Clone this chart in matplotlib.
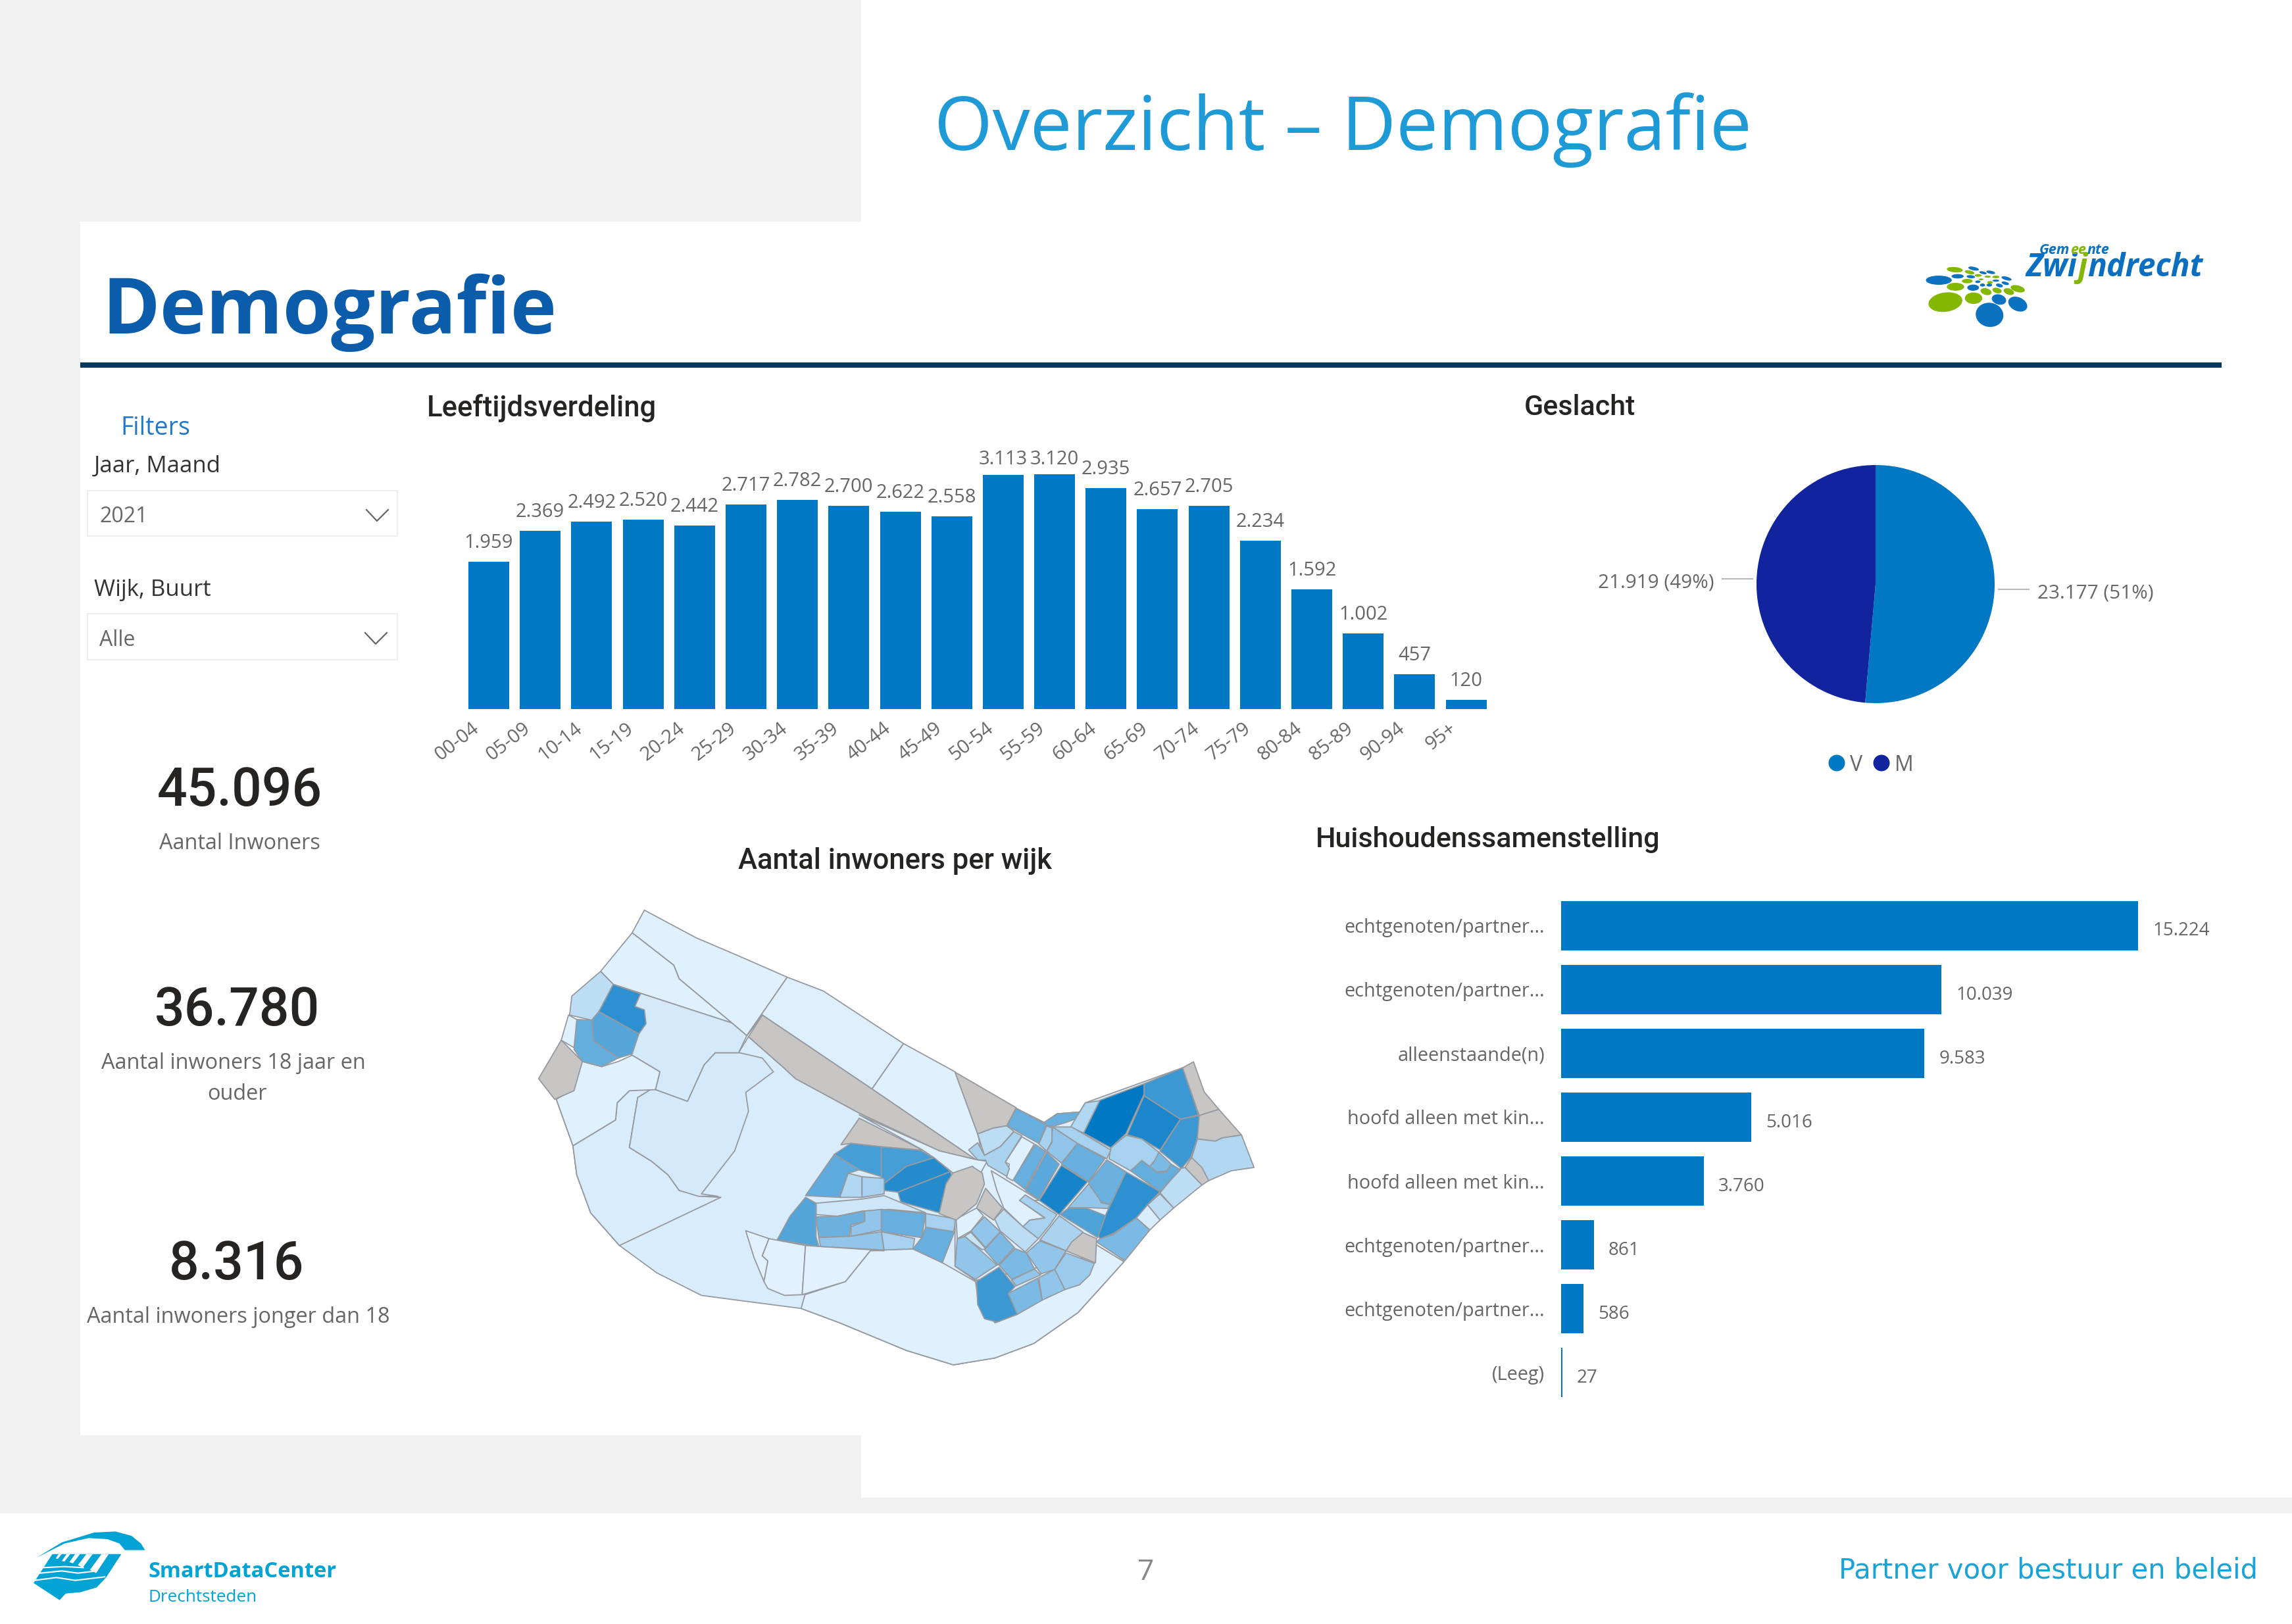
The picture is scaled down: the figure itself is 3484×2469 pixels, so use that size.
import numpy as np
from matplotlib import pyplot as pl, colors as mcolors
from matplotlib.collections import PolyCollection
from matplotlib.patches import Rectangle, Ellipse, Polygon
from matplotlib.transforms import ScaledTranslation

W, H = 3484, 2469
bodyFont = 'Open Sans'
dinFont = 'Roboto'
barCol = '#0078C4'
manCol = '#12239E'
labelCol = '#666666'
titleCol = '#252423'
greyBg = '#F1F1F1'
cyan = '#00A3D4'

# age chart
ageGroups = ['00-04', '05-09', '10-14', '15-19', '20-24', '25-29', '30-34', '35-39', '40-44', '45-49',
             '50-54', '55-59', '60-64', '65-69', '70-74', '75-79', '80-84', '85-89', '90-94', '95+']
ageCounts = [1959, 2369, 2492, 2520, 2442, 2717, 2782, 2700, 2622, 2558,
             3113, 3120, 2935, 2657, 2705, 2234, 1592, 1002, 457, 120]

# pie
genders = ['V', 'M']
genderCounts = [23177, 21919]
genderLabels = ['23.177 (51%)', '21.919 (49%)']

# households
hhLabels = ['echtgenoten/partner...', 'echtgenoten/partner...', 'alleenstaande(n)', 'hoofd alleen met kin...',
            'hoofd alleen met kin...', 'echtgenoten/partner...', 'echtgenoten/partner...', '(Leeg)']
hhCounts = [15224, 10039, 9583, 5016, 3760, 861, 586, 27]

# kpi cards
kpiValues = ['45.096', '36.780', '8.316']

def fmtNl(v):
  return f'{v:,}'.replace(',', '.')

# map: (share of the darkest wijk, outline). nan is a wijk without data (grey)
nan = float('nan')
westShapes = [
  (.05, [(268,710),(298,845),(305,930),(330,1040),(382,1135),(450,1215),(530,1280),(600,1295),(710,1318),(780,1360),(900,1440),(985,1482),(1060,1462),(1130,1420),(1210,1330),(1255,1250),(1293,1182),(1240,1130),(1100,960),(1040,890),(1025,885),(960,860),(815,750),(700,650),(680,620),(615,528),(597,575),(450,640)]),
  (.02, [(710,1318),(717,1278),(790,1240),(835,1150),(860,1148),(912,1145),(965,1185),(1025,1240),(1030,1300),(1060,1360),(1100,1335),(1240,1130),(1293,1182),(1255,1250),(1210,1330),(1130,1420),(1060,1462),(985,1482),(900,1440),(780,1360)]),
  (.05, [(298,845),(305,930),(330,1040),(382,1135),(565,995),(530,992),(490,975),(470,930),(440,890),(400,850),(415,705),(440,680),(400,685),(378,720),(375,770)]),
  (.02, [(427,160),(405,226),(480,320),(490,360),(585,488),(612,525),(685,355),(600,295),(520,240)]),
  (.02, [(405,226),(348,338),(371,376),(585,488),(490,360),(480,320)]),
  (.03, [(685,355),(750,395),(895,548),(838,680),(640,465),(612,525)]),
  (.02, [(895,548),(988,630),(1030,815),(1037,880),(1025,885),(838,680)]),
  (.07, [(371,376),(585,488),(612,525),(597,575),(555,575),(535,610),(505,716),(447,682),(455,630),(405,582),(380,520),(345,455)]),
  (.07, [(440,680),(415,705),(400,850),(440,890),(470,930),(490,975),(525,992),(560,992),(530,985),(590,860),(615,745),(610,690),(660,630),(640,590),(600,575),(555,575),(535,610),(505,716),(447,682)]),
  (.02, [(268,710),(300,680),(315,600),(350,615),(380,600),(405,582),(455,630),(447,682),(400,685),(378,720),(375,770),(298,845)]),
  (nan, [(277,538),(315,600),(300,685),(265,710),(236,650)]),
  (nan, [(640,465),(838,680),(1025,885),(960,860),(815,750),(700,650),(680,620),(615,528)]),
  (.17, [(348,338),(371,376),(345,455),(332,480),(292,465),(296,410)]),
  (.80, [(371,376),(420,403),(410,440),(427,450),(430,490),(417,520),(345,455)]),
  (.62, [(345,455),(417,520),(405,578),(380,590),(335,540),(332,480)]),
  (.56, [(305,478),(332,480),(335,540),(380,590),(350,615),(315,600),(300,565)]),
  (.02, [(290,465),(305,478),(300,560),(277,538)]),
  (.01, [(610,1092),(652,1115),(640,1165),(650,1180),(643,1240),(625,1170)]),
  (.01, [(652,1115),(718,1135),(712,1278),(680,1280),(650,1260),(643,1240),(650,1180),(640,1165)]),
  (.01, [(718,1135),(860,1150),(835,1150),(790,1240),(712,1278)]),
  (.02, [(815,755),(960,860),(1025,885),(1045,890),(1050,965),(1035,960),(1020,905),(985,925),(950,880),(930,858)]),
  (nan, [(815,765),(930,858),(855,848),(800,838),(782,842)]),
  (.69, [(770,870),(800,838),(855,848),(855,935),(815,915)]),
  (.69, [(855,848),(925,858),(950,880),(900,905),(860,955),(855,935)]),
  (.84, [(950,880),(980,920),(885,980),(860,975),(860,955),(900,905)]),
  (.84, [(980,920),(985,960),(960,1040),(890,1008),(885,980)]),
  (.58, [(770,870),(815,915),(795,925),(780,995),(718,990)]),
  (.22, [(795,925),(820,935),(820,995),(780,995)]),
  (.27, [(820,935),(860,940),(860,985),(820,995)]),
  (.10, [(737,1012),(820,1000),(860,990),(935,1040),(870,1030),(820,1035),(775,1050),(737,1045)]),
  (.64, [(718,995),(737,1012),(737,1110),(742,1138),(667,1118),(690,1050)]),
  (.53, [(737,1052),(775,1050),(825,1035),(825,1065),(800,1075),(797,1108),(742,1112)]),
  (.36, [(825,1035),(855,1030),(855,1090),(800,1108),(800,1080),(825,1065)]),
  (.55, [(855,1030),(935,1042),(928,1112),(855,1095)]),
  (.27, [(935,1042),(990,1058),(985,1097),(935,1082)]),
  (.36, [(742,1112),(800,1108),(855,1095),(860,1148),(745,1138)]),
  (.27, [(855,1095),(915,1115),(912,1145),(860,1148)]),
  (.55, [(935,1082),(987,1095),(965,1185),(912,1145),(928,1112)]),
]
eastShapes = [
  (.03, [(250,432),(380,395),(420,315),(555,385),(600,340),(700,332),(725,290),(1155,130),(1228,348),(1215,470),(1150,590),(1055,700),(900,1010),(775,920),(710,1000),(240,1100),(150,1035),(150,820),(290,560)]),
  (nan, [(150,150),(420,312),(378,395),(320,405),(250,432)]),
  (.55, [(420,315),(555,390),(520,475),(380,395)]),
  (.55, [(545,378),(600,340),(700,332),(685,362),(645,378),(580,398),(555,395)]),
  (.22, [(725,290),(790,280),(718,428),(660,400)]),
  (1.0, [(790,278),(985,203),(985,250),(905,430),(838,495),(718,428)]),
  (.74, [(985,203),(1155,130),(1225,345),(1145,365),(985,258)]),
  (.88, [(985,258),(1145,365),(1055,505),(975,455),(910,435)]),
  (.74, [(1145,365),(1228,348),(1235,380),(1215,470),(1190,540),(1150,590),(1055,510)]),
  (nan, [(1155,130),(1203,103),(1250,240),(1315,320),(1228,348)]),
  (nan, [(1228,348),(1315,320),(1415,437),(1330,450),(1300,465),(1220,455)]),
  (.22, [(1220,455),(1300,465),(1330,450),(1415,437),(1470,585),(1370,600),(1270,645),(1195,540)]),
  (nan, [(1195,540),(1240,585),(1270,645),(1240,665),(1165,585)]),
  (.17, [(1145,590),(1165,585),(1240,665),(1115,770),(1055,700)]),
  (.17, [(1055,705),(1115,770),(1055,825),(1000,755)]),
  (.04, [(1000,755),(1055,825),(1010,870),(950,815)]),
  (.46, [(950,815),(1010,870),(900,1010),(775,925),(790,910),(850,890)]),
  (.80, [(905,605),(1055,695),(1000,755),(950,815),(850,885),(790,910),(780,890),(820,790)]),
  (.56, [(925,600),(975,553),(1010,580),(1040,608),(1085,605),(1105,570),(1145,595),(1055,695)]),
  (.46, [(1050,515),(1105,570),(1085,600),(1040,605),(1010,580),(1030,555)]),
  (.27, [(905,438),(975,455),(1050,515),(1030,555),(1010,580),(975,553),(925,600),(830,545),(838,495)]),
  (.27, [(580,400),(665,400),(838,505),(820,545),(690,475)]),
  (.36, [(580,400),(690,475),(620,565),(555,510),(578,470)]),
  (.27, [(555,395),(578,405),(578,465),(555,510),(520,478)]),
  (.55, [(690,475),(812,545),(740,650),(620,570)]),
  (.53, [(820,550),(905,605),(835,755),(790,740),(740,655)]),
  (.90, [(620,575),(735,650),(610,800),(522,735)]),
  (.60, [(555,515),(610,570),(520,730),(462,690)]),
  (.55, [(505,480),(550,512),(460,685),(405,640)]),
  (.36, [(740,660),(785,725),(795,745),(835,755),(825,772),(730,768),(650,768)]),
  (.66, [(650,770),(730,770),(815,805),(780,905),(615,800)]),
  (.02, [(445,445),(500,478),(405,645),(378,630),(390,570),(372,560)]),
  (.17, [(250,432),(320,405),(378,395),(410,420),(350,490),(280,530)]),
  (.25, [(210,505),(250,472),(280,530),(350,490),(410,422),(445,440),(372,560),(390,590),(378,625),(295,575),(285,552),(250,550)]),
  (.02, [(310,600),(522,735),(435,735),(545,815),(480,825),(450,855),(365,770),(335,690)]),
  (.27, [(460,710),(600,800),(570,845),(518,910),(450,855),(480,825),(548,815),(435,735)]),
  (.25, [(610,805),(715,880),(640,965),(525,915)]),
  (nan, [(715,882),(775,910),(770,1020),(640,965),(665,925)]),
  (.17, [(325,820),(365,775),(450,855),(518,910),(460,970),(350,875)]),
  (.36, [(525,920),(640,965),(590,1050),(530,1070),(465,975)]),
  (.32, [(640,975),(765,1022),(745,1075),(700,1120),(635,1142),(590,1050)]),
  (.36, [(590,1050),(635,1142),(535,1190),(520,1088)]),
  (.36, [(400,1098),(500,1048),(528,1075),(420,1125)]),
  (.46, [(385,1160),(515,1090),(535,1190),(425,1255)]),
  (.74, [(345,1040),(415,1128),(385,1160),(425,1255),(335,1290),(280,1275),(250,1210),(245,1105)]),
  (.46, [(345,1030),(415,955),(465,975),(500,1048),(400,1095)]),
  (.46, [(280,960),(350,880),(412,950),(340,1030)]),
  (.36, [(220,875),(280,810),(350,878),(285,950)]),
  (.12, [(190,900),(220,880),(285,955),(270,960)]),
  (.36, [(160,910),(195,900),(335,1030),(240,1095),(150,1035)]),
  (.02, [(155,820),(245,770),(275,805),(220,875),(160,910)]),
  (nan, [(245,770),(285,680),(360,770),(320,825)]),
  (nan, [(225,580),(270,610),(280,660),(245,750),(155,825),(80,795),(110,660),(140,610)]),
]

# gemeente logo dots: x, y, w, h, angle, green?
logoDots = [
  (272,318,110,42,0,0),(340,270,68,24,5,1),(420,265,46,16,12,0),(403,282,42,16,12,1),(352,300,52,20,0,0),
  (408,302,36,14,5,0),(393,322,46,20,0,1),(343,348,74,36,0,1),(418,352,50,28,0,0),(300,418,145,88,-8,1),
  (420,400,74,52,0,1),(528,406,62,46,15,0),(608,427,85,62,25,0),(488,476,118,110,10,0),(473,370,48,30,15,1),
  (520,365,40,24,15,1),(570,370,46,28,20,1),(608,357,62,30,15,1),(460,284,32,12,12,0),(493,282,38,14,12,0),
  (440,296,30,12,0,1),(480,302,26,10,0,1),(515,303,30,12,0,1),(560,310,44,16,15,0),(438,325,22,12,0,0),
  (452,314,20,8,0,1),(490,328,24,12,0,1),(515,320,28,10,0,0),(555,332,32,14,15,0),(458,340,22,14,0,0),
  (487,340,24,14,0,0),(530,342,30,16,15,0),
]

pl.rcParams['font.family'] = [bodyFont, 'DejaVu Sans']

fig = pl.figure(figsize=(W / 100, H / 100), dpi=100, facecolor='white')
page = fig.add_axes([0, 0, 1, 1], zorder=0)
page.set_xlim(0, W)
page.set_ylim(H, 0)
page.axis('off')

def axPx(left, top, right, bottom, **kw):
  a = fig.add_axes([left / W, 1 - bottom / H, (right - left) / W, (bottom - top) / H], zorder=1, **kw)
  a.patch.set_alpha(0)
  return a

def txt(x, y, s, size, col=labelCol, font=bodyFont, ha='left', weight='normal', **kw):
  return page.text(x, y, s, fontsize=size, color=col, family=font, ha=ha, va='baseline', weight=weight, **kw)

def runs(x, y, parts, size, weight, style):
  # text in several colours, next to each other
  r = fig.canvas.get_renderer()
  for s, c in parts:
    t = txt(x, y, s, size, c, weight=weight, style=style)
    x = page.transData.inverted().transform(t.get_window_extent(r).corners()[2])[0] + 1

# background of the slide
for x0, y0, x1, y1 in [(0, 0, 122, 2301), (0, 0, 1309, 337), (122, 2182, 1309, 2301), (0, 2277, W, 2301)]:
  page.add_patch(Rectangle((x0, y0), x1 - x0, y1 - y0, fc=greyBg, lw=0))

txt(1420, 228, 'Overzicht – Demografie', 82, '#1E9AD6')
txt(155, 507, 'Demografie', 85.5, '#0B5CAB', weight='bold')
page.add_patch(Rectangle((122, 551), 3255, 8, fc='#07385E', lw=0))

# gemeente logo
for x, y, w, h, ang, green in logoDots:
  page.add_patch(Ellipse((2850 + x / 2.8, 320 + y / 3), w / 2.8, h / 3, angle=ang, fc='#84B800' if green else '#0A72C0', lw=0))
runs(3079, 420, [('Zwi', '#0A6FC0'), ('j', '#84B800'), ('ndrecht', '#0A6FC0')], 34.6, 'bold', 'italic')
runs(3100, 386, [('Gem', '#0A72C0'), ('ee', '#84B800'), ('nte', '#0A72C0')], 15.5, 'bold', 'italic')

# filters
txt(183, 661, 'Filters', 27, '#1F78C8')
txt(143, 718, 'Jaar, Maand', 25, '#333333')
txt(143, 906, 'Wijk, Buurt', 25, '#333333')
for y0, y1, val, valY, chevX, chevY in [(746, 815, '2021', 794, 557, 775), (933, 1003, 'Alle', 982, 555, 962)]:
  page.add_patch(Rectangle((133, y0), 471, y1 - y0, fc='white', ec='#EEEEEE', lw=1.6))
  txt(151, valY, val, 23)
  page.plot([chevX, chevX + 16, chevX + 33], [chevY, chevY + 17, chevY], color='#666666', lw=1.6)

# kpi cards
for val, x, y in zip(kpiValues, [364, 360, 360], [1225, 1559, 1945]):
  txt(x, y, val, 58, '#252423', dinFont, ha='center', weight='medium')
txt(364, 1291, 'Aantal Inwoners', 23.4, ha='center')
txt(355, 1625, 'Aantal inwoners 18 jaar en', 23.4, ha='center')
txt(360, 1672, 'ouder', 23.4, ha='center')
txt(362, 2011, 'Aantal inwoners jonger dan 18', 23.4, ha='center')

# chart titles
txt(649, 633, 'Leeftijdsverdeling', 31.4, titleCol, dinFont, weight='medium')
txt(2317, 631, 'Geslacht', 31, titleCol, dinFont, weight='medium')
txt(2000, 1288, 'Huishoudenssamenstelling', 31, titleCol, dinFont, weight='medium')
txt(1122, 1321, 'Aantal inwoners per wijk', 31.4, titleCol, dinFont, weight='medium')

# age bars
pxPerPerson = 0.1143
axAge = axPx(703.9, 690, 2267.7, 1077.7)
axAge.bar(range(len(ageCounts)), ageCounts, width=0.793, color=barCol)
axAge.set_xlim(-0.5, len(ageCounts) - 0.5)
axAge.set_ylim(0, 387.7 / pxPerPerson)
axAge.set_yticks([])
axAge.set_xticks(range(len(ageCounts)))
axAge.set_xticklabels(ageGroups, rotation=38, ha='right', rotation_mode='anchor', fontsize=21, color=labelCol)
axAge.tick_params(axis='x', length=0, pad=11)
shiftLeft = ScaledTranslation(-27 / 100, 0, fig.dpi_scale_trans)
for lab in axAge.get_xticklabels():
  lab.set_transform(lab.get_transform() + shiftLeft)
for s in axAge.spines.values():
  s.set_visible(False)
# the highest labels are pushed down a bit by the top of the chart
labelTop = 371.7 / pxPerPerson
for i, v in enumerate(ageCounts):
  axAge.text(i, min(v + 21 / pxPerPerson, labelTop), fmtNl(v), ha='center', va='baseline', fontsize=21, color=labelCol)

# pie
axPie = axPx(2851 - 181, 888 - 181, 2851 + 181, 888 + 181)
axPie.pie(genderCounts, colors=[barCol, manCol], startangle=90, counterclock=False, radius=1,
          wedgeprops=dict(lw=0))
axPie.set_xlim(-1, 1)
axPie.set_ylim(-1, 1)
fracs = np.cumsum(genderCounts) / np.sum(genderCounts) - np.array(genderCounts) / np.sum(genderCounts) / 2
for frac, lab in zip(fracs, genderLabels):
  ang = 2 * np.pi * frac
  sx, cy = np.sin(ang), np.cos(ang)
  axPie.plot([1.035 * sx, 1.29 * sx], [cy, cy], color='#BBBBBB', lw=1.6, clip_on=False)
  axPie.annotate(lab, (1.36 * sx, cy), xytext=(0, -9.5), textcoords='offset points', va='baseline',
                 ha='left' if sx > 0 else 'right', fontsize=21.3, color=labelCol, annotation_clip=False)
for name, col, cx, tx in zip(genders, [barCol, manCol], [2792, 2860], [2812, 2880]):
  page.add_patch(Ellipse((cx, 1160), 25, 25, fc=col, lw=0))
  txt(tx, 1172, name, 23)

# households
hhPos = np.arange(len(hhCounts))
axHh = axPx(2373, 1358.6, 3400, 2135.4)
axHh.barh(hhPos, hhCounts, height=0.775, color=barCol)
axHh.set_xlim(0, 1027 / 0.0576)
axHh.set_ylim(len(hhCounts) - 0.5, -0.5)
axHh.set_xticks([])
axHh.set_yticks(hhPos)
axHh.set_yticklabels(hhLabels, fontsize=20.8, color=labelCol)
axHh.tick_params(axis='y', length=0, pad=18)
for s in axHh.spines.values():
  s.set_visible(False)
for p, v in zip(hhPos, hhCounts):
  axHh.annotate(fmtNl(v), (v, p), xytext=(16, -11), textcoords='offset points', va='baseline', ha='left',
                fontsize=20, color=labelCol)

# choropleth
axMap = axPx(620, 1300, 1940, 2120)
axMap.set_xlim(0, 1568)
axMap.set_ylim(1568, 0)
axMap.axis('off')
eastToWest = lambda p: (926.6 + 0.409 * p[0], 535.4 + 0.6373 * p[1])
polys = [pts for _, pts in westShapes] + [[eastToWest(p) for p in pts] for _, pts in eastShapes]
shares = np.ma.masked_invalid([v for v, _ in westShapes] + [v for v, _ in eastShapes])
mapCmap = mcolors.LinearSegmentedColormap.from_list('wijk', ['#E3F2FF', barCol])
mapCmap.set_bad('#C8C6C4')
axMap.add_collection(PolyCollection(polys, array=shares, cmap=mapCmap, norm=mcolors.Normalize(0, 1),
                                    edgecolors='#969A9E', linewidths=1.3))

# smartdatacenter logo + footer
sdc = lambda pts: [(x / 2.45, 2260 + y / 3) for x, y in pts]
page.add_patch(Polygon(sdc([(135,325),(230,255),(350,210),(430,205),(490,225),(525,260),(540,290),(465,290),(445,260),(400,240),(330,235),(240,260)]), fc=cyan, lw=0))
page.add_patch(Polygon(sdc([(195,308),(452,308),(395,415),(360,460),(300,482),(245,488),(222,518),(125,440)]), fc=cyan, lw=0))
for slot in [[(378,308),(405,308),(358,395),(335,380)], [(322,308),(345,308),(308,370),(290,358)],
             [(280,308),(298,308),(272,350),(258,345)], [(248,308),(262,308),(240,342),(230,340)],
             [(218,308),(230,308),(215,330),(208,328)]]:
  page.add_patch(Polygon(sdc(slot), fc='white', lw=0))
for wave in [[(130,428),(210,415),(280,428),(390,412)], [(150,395),(230,385),(290,395),(360,385)], [(160,370),(240,365),(310,370)]]:
  xy = sdc(wave)
  page.plot([p[0] for p in xy], [p[1] for p in xy], color='white', lw=1.5)
txt(225, 2398, 'SmartDataCenter', 23.5, cyan, weight='bold')
txt(225, 2435, 'Drechtsteden', 18.8, cyan)
txt(1742, 2402, '7', 32, '#888888', ha='center')
txt(2795, 2400, 'Partner voor bestuur en beleid', 30.1, '#1AA3D6', 'DejaVu Sans')

fig.savefig('out.png', dpi=100)
